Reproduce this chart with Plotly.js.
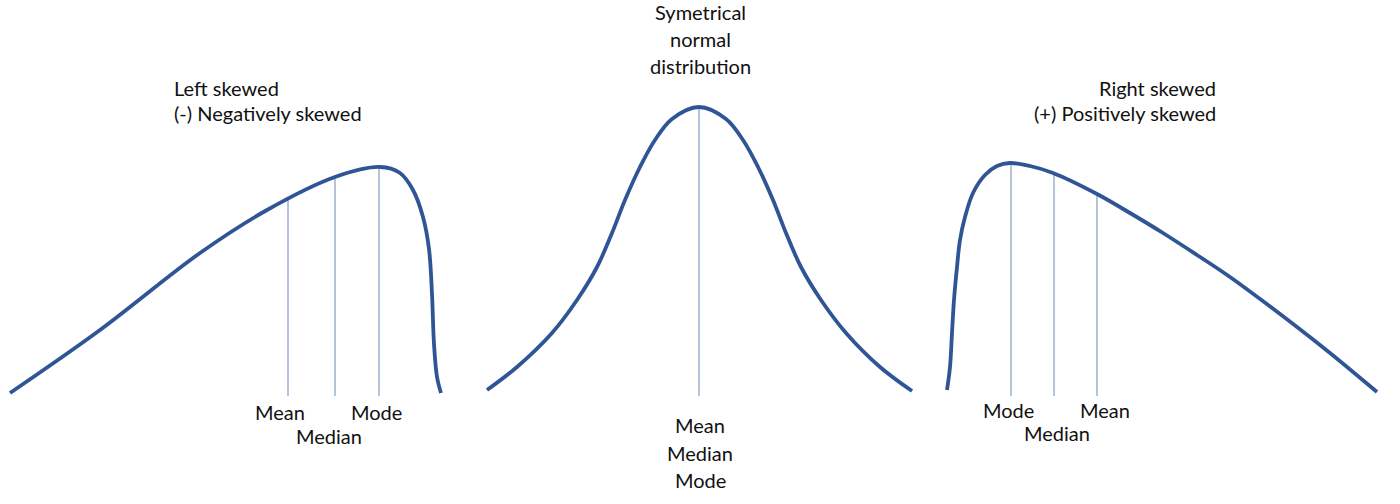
<!DOCTYPE html>
<html>
<head>
<meta charset="utf-8">
<script src="https://cdn.plot.ly/plotly-3.0.1.min.js"></script>
<style>html,body{margin:0;padding:0;background:#fff;}#chart{width:1400px;height:504px;}</style>
</head>
<body>
<div id="chart"></div>
<script>
// Curve points (x position, height above the bottom edge)
var leftX  = [10, 100, 200, 267, 335, 380, 400, 413, 423, 429, 432, 434, 437, 441];
var leftY  = [111, 174, 251, 294, 327, 337, 331, 314, 287, 255, 210, 160, 127, 111];
var midX   = [487, 517, 552, 577, 597, 612, 625, 640, 655, 672, 699, 726, 743, 758, 773, 786, 801, 821, 846, 880, 912];
var midY   = [114, 137, 171, 204, 237, 271, 304, 337, 364, 385, 397, 385, 364, 337, 304, 271, 237, 204, 171, 137, 113];
var rightX = [947, 950, 952, 954, 957, 960, 965, 973, 985, 997, 1010, 1030, 1053, 1097, 1130, 1163, 1197, 1230, 1297, 1330, 1377];
var rightY = [114, 137, 171, 204, 237, 264, 287, 311, 329, 338, 341, 338, 331, 310, 291, 271, 249, 227, 177, 151, 112];

// Mean / median / mode markers: x position, top height; all end at markBottom
var leftMarkX  = [288, 335, 379];
var leftMarkTop = [304, 327, 337];
var midMarkX  = [699];
var midMarkTop = [397];
var rightMarkX = [1011, 1054, 1097];
var rightMarkTop = [341, 331, 310];
var markBottom = 108;

// Labels
var leftTitle = ["Left skewed", "(-) Negatively skewed"];
var midTitle = ["Symetrical", "normal", "distribution"];
var rightTitle = ["Right skewed", "(+) Positively skewed"];
var leftLabels = [["Mean", 280, 92], ["Median", 329, 68], ["Mode", 376, 92]];
var midLabels = [["Mean", 700, 79], ["Median", 700, 51], ["Mode", 700, 24]];
var rightLabels = [["Mode", 1008, 94], ["Median", 1057, 71], ["Mean", 1105, 94]];

var curveColor = '#2F5597';
var markColor = '#8EA4C8';
var traces = [];
[[leftMarkX, leftMarkTop], [midMarkX, midMarkTop], [rightMarkX, rightMarkTop]].forEach(function (m) {
  m[0].forEach(function (x, i) {
    traces.push({x: [x, x], y: [m[1][i], markBottom], mode: 'lines', type: 'scatter', hoverinfo: 'skip',
      line: {color: markColor, width: 1.3}});
  });
});
[[leftX, leftY], [midX, midY], [rightX, rightY]].forEach(function (c) {
  traces.push({x: c[0], y: c[1], mode: 'lines', type: 'scatter', hoverinfo: 'skip',
    line: {color: curveColor, width: 3.8, shape: 'spline', smoothing: 1}});
});

var font = {family: 'Lato, "Open Sans", sans-serif', size: 20, color: '#111'};
var ann = [];
leftTitle.forEach(function (t, i) {
  ann.push({text: t, x: 172, y: 416 - i * 25, xanchor: 'left', yanchor: 'middle', showarrow: false, font: font});
});
rightTitle.forEach(function (t, i) {
  ann.push({text: t, x: 1218, y: 416 - i * 25, xanchor: 'right', yanchor: 'middle', showarrow: false, font: font});
});
midTitle.forEach(function (t, i) {
  ann.push({text: t, x: 700, y: 492 - i * 27, xanchor: 'center', yanchor: 'middle', showarrow: false, font: font});
});
leftLabels.concat(midLabels, rightLabels).forEach(function (l) {
  ann.push({text: l[0], x: l[1], y: l[2], xanchor: 'center', yanchor: 'middle', showarrow: false, font: font});
});

var layout = {
  width: 1400, height: 504,
  margin: {l: 0, r: 0, t: 0, b: 0},
  paper_bgcolor: '#fff', plot_bgcolor: '#fff',
  showlegend: false,
  xaxis: {range: [0, 1400], visible: false, fixedrange: true},
  yaxis: {range: [0, 504], visible: false, fixedrange: true},
  annotations: ann
};
Plotly.newPlot('chart', traces, layout, {staticPlot: true, displayModeBar: false});
</script>
</body>
</html>
